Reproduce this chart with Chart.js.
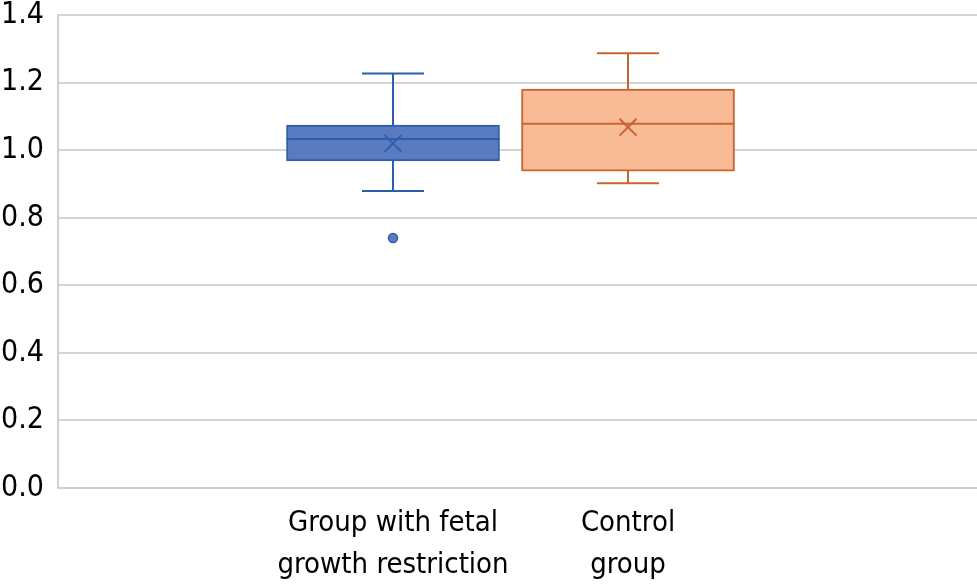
<!DOCTYPE html>
<html>
<head>
<meta charset="utf-8">
<script src="https://cdn.jsdelivr.net/npm/chart.js@4"></script>
<style>
  html, body { margin: 0; padding: 0; background: #fff; overflow: hidden; }
  #wrap { width: 977px; height: 584px; }
  canvas { display: block; }
</style>
</head>
<body>
<div id="wrap"><canvas id="boxChart"></canvas></div>
<script>
// values
const categories = [["Group with fetal", "growth restriction"], ["Control", "group"]];
const q1 = [0.968, 0.938];
const q3 = [1.074, 1.181];
const medians = [1.033, 1.078];
const means = [1.020, 1.068];
const whiskerLow = [0.879, 0.902];
const whiskerHigh = [1.227, 1.287];
const outliers = [[0.740], []];
const yTicks = [0, 0.2, 0.4, 0.6, 0.8, 1.0, 1.2, 1.4];

const fills = ["#5b7bc0", "#f9ba96"];
const strokes = ["#2f5dae", "#c8642f"];
const FONT = "'DejaVu Sans', sans-serif";

// median lines and whiskers, drawn right after the boxes
const whiskerPlugin = {
    id: "whiskers",
    afterDatasetDraw(chart, args) {
        if (args.index !== 0) return;
        const ctx = chart.ctx;
        const y = chart.scales.y;
        args.meta.data.forEach((bar, i) => {
            const half = bar.width / 2;
            const cap = 31;
            ctx.save();
            ctx.strokeStyle = strokes[i];
            ctx.lineWidth = 2;
            ctx.beginPath();
            // median
            ctx.moveTo(bar.x - half, y.getPixelForValue(medians[i]));
            ctx.lineTo(bar.x + half, y.getPixelForValue(medians[i]));
            // upper whisker
            ctx.moveTo(bar.x, y.getPixelForValue(q3[i]));
            ctx.lineTo(bar.x, y.getPixelForValue(whiskerHigh[i]));
            ctx.moveTo(bar.x - cap, y.getPixelForValue(whiskerHigh[i]));
            ctx.lineTo(bar.x + cap, y.getPixelForValue(whiskerHigh[i]));
            // lower whisker
            ctx.moveTo(bar.x, y.getPixelForValue(q1[i]));
            ctx.lineTo(bar.x, y.getPixelForValue(whiskerLow[i]));
            ctx.moveTo(bar.x - cap, y.getPixelForValue(whiskerLow[i]));
            ctx.lineTo(bar.x + cap, y.getPixelForValue(whiskerLow[i]));
            ctx.stroke();
            ctx.restore();
        });
    }
};

const boxData = categories.map((c, i) => ({ x: i + 1, y: [q1[i], q3[i]] }));
const meanData = categories.map((c, i) => ({ x: i + 1, y: means[i] }));
const outlierData = [];
const outlierColors = [];
const outlierBorders = [];
outliers.forEach((list, i) => list.forEach(v => {
    outlierData.push({ x: i + 1, y: v });
    outlierColors.push(fills[i]);
    outlierBorders.push(strokes[i]);
}));

const ctx = document.getElementById("boxChart").getContext("2d");
const boxChart = new Chart(ctx, {
    type: "bar",
    data: {
        datasets: [
            {
                label: "Box",
                data: boxData,
                backgroundColor: fills,
                borderColor: strokes,
                borderWidth: 2,
                borderSkipped: false,
                barThickness: 213,
                order: 3
            },
            {
                type: "scatter",
                label: "Mean",
                data: meanData,
                pointStyle: "crossRot",
                radius: 12,
                borderColor: strokes,
                borderWidth: 2,
                order: 1
            },
            {
                type: "scatter",
                label: "Outliers",
                data: outlierData,
                pointStyle: "circle",
                radius: 4.5,
                backgroundColor: outlierColors,
                borderColor: outlierBorders,
                borderWidth: 1.5,
                order: 2
            }
        ]
    },
    options: {
        responsive: true,
        maintainAspectRatio: false,
        animation: false,
        layout: { padding: 0, autoPadding: false },
        plugins: {
            legend: { display: false },
            tooltip: { enabled: false }
        },
        scales: {
            x: {
                type: "linear",
                offset: false,
                min: -0.4255,
                max: 3.485,
                afterBuildTicks: axis => {
                    axis.ticks = categories.map((c, i) => ({ value: i + 1 }));
                },
                afterFit: axis => {
                    axis.height = 96;
                    axis.paddingLeft = 0;
                    axis.paddingRight = 0;
                },
                grid: { display: false, drawTicks: false },
                border: { display: true, color: "#d0d0d0", width: 2 },
                ticks: {
                    autoSkip: false,
                    maxRotation: 0,
                    padding: 14,
                    color: "#000",
                    font: { family: FONT, size: 29, weight: "condensed", lineHeight: 1.45 },
                    callback: value => categories[value - 1]
                }
            },
            y: {
                min: 0,
                max: 1.4,
                afterBuildTicks: axis => {
                    axis.ticks = yTicks.map(v => ({ value: v }));
                },
                afterFit: axis => {
                    axis.width = 58;
                    axis.paddingTop = 15;
                    axis.paddingBottom = 0;
                },
                grid: { color: "#d4d4d4", lineWidth: 2, drawTicks: false },
                border: { display: true, color: "#d0d0d0", width: 2 },
                ticks: {
                    padding: 14,
                    color: "#000",
                    font: { family: FONT, size: 30, weight: "condensed" },
                    callback: value => value.toFixed(1)
                }
            }
        }
    },
    plugins: [whiskerPlugin]
});
</script>
</body>
</html>
